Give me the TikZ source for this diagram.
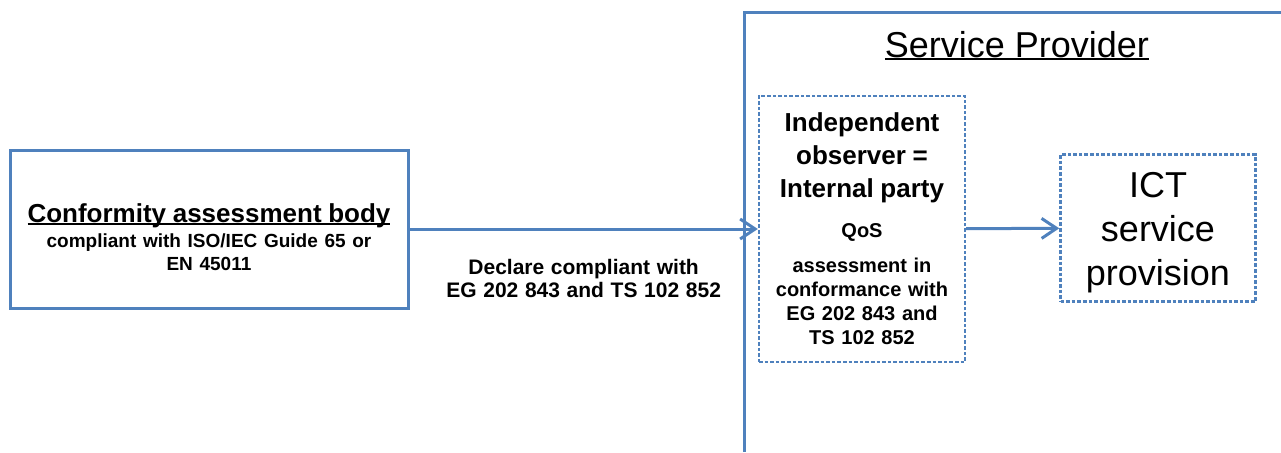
\documentclass[tikz,border=0pt]{standalone}
\usepackage{fontspec}
\setmainfont{Liberation Sans}
\usetikzlibrary{arrows.meta, positioning}
\definecolor{spblue}{RGB}{79,129,189}
\newcommand{\undl}[1]{\leavevmode\setbox0\hbox{#1}\rlap{\rule[-0.09em]{\wd0}{0.065em}}\box0}

\begin{document}
\begin{tikzpicture}[x=0.5pt,y=0.5pt,
    solidbox/.style={draw=spblue,line width=1.5pt,align=center,inner sep=0pt},
    dashbox/.style={draw=spblue,line width=1.2pt,dash pattern=on 1.8pt off 1pt,align=center,inner sep=0pt},
    link/.style={draw=spblue,line width=1.5pt,-{Straight Barb[length=7.5pt,width=10pt]}}]
	  \useasboundingbox (0,0) rectangle (1281,452);
	  % service provider frame
	  \draw[spblue,line width=1.5pt] (744,0) |- (1281,440);
	  \node at (1017,395) (sp) [anchor=base,inner sep=0pt]{\fontsize{18}{22}\selectfont\undl{Service Provider}};
	  \node at (209,223) (cab) [solidbox,minimum width=199pt,minimum height=79pt,text width=195pt]{%
	    \fontsize{13}{16}\selectfont\bfseries\rule{0pt}{17.5pt}\undl{Conformity assessment body}\par\vspace{1pt}
	    \fontsize{9.5}{11.5}\selectfont compliant with ISO/IEC Guide 65 or\\EN 45011\par};
	  \node at (862,223) (obs) [dashbox,minimum width=103pt,minimum height=133pt,text width=101pt]{%
	    \fontsize{13}{16.5}\selectfont\bfseries Independent\\observer =\\Internal party\par\vspace{8pt}
	    \fontsize{10}{12}\selectfont QoS\\[5.5pt]assessment in\\conformance with\\EG 202 843 and\\TS 102 852\par};
	  \node at (1158,224) (ict) [dashbox,minimum width=97.5pt,minimum height=73.5pt,text width=95pt]{%
	    \fontsize{18}{22}\selectfont\rule{0pt}{17pt}ICT\\service\\provision\par};
	  \draw[link](cab) -- (obs) node (decl) [midway,below=14.5pt,inner sep=0pt,align=center,text width=140pt]{%
	    \fontsize{10.5}{11.5}\selectfont\bfseries Declare compliant with\\EG 202 843 and TS 102 852\par};
	  \draw[link](obs) -- (ict);
	\end{tikzpicture}
\end{document}
